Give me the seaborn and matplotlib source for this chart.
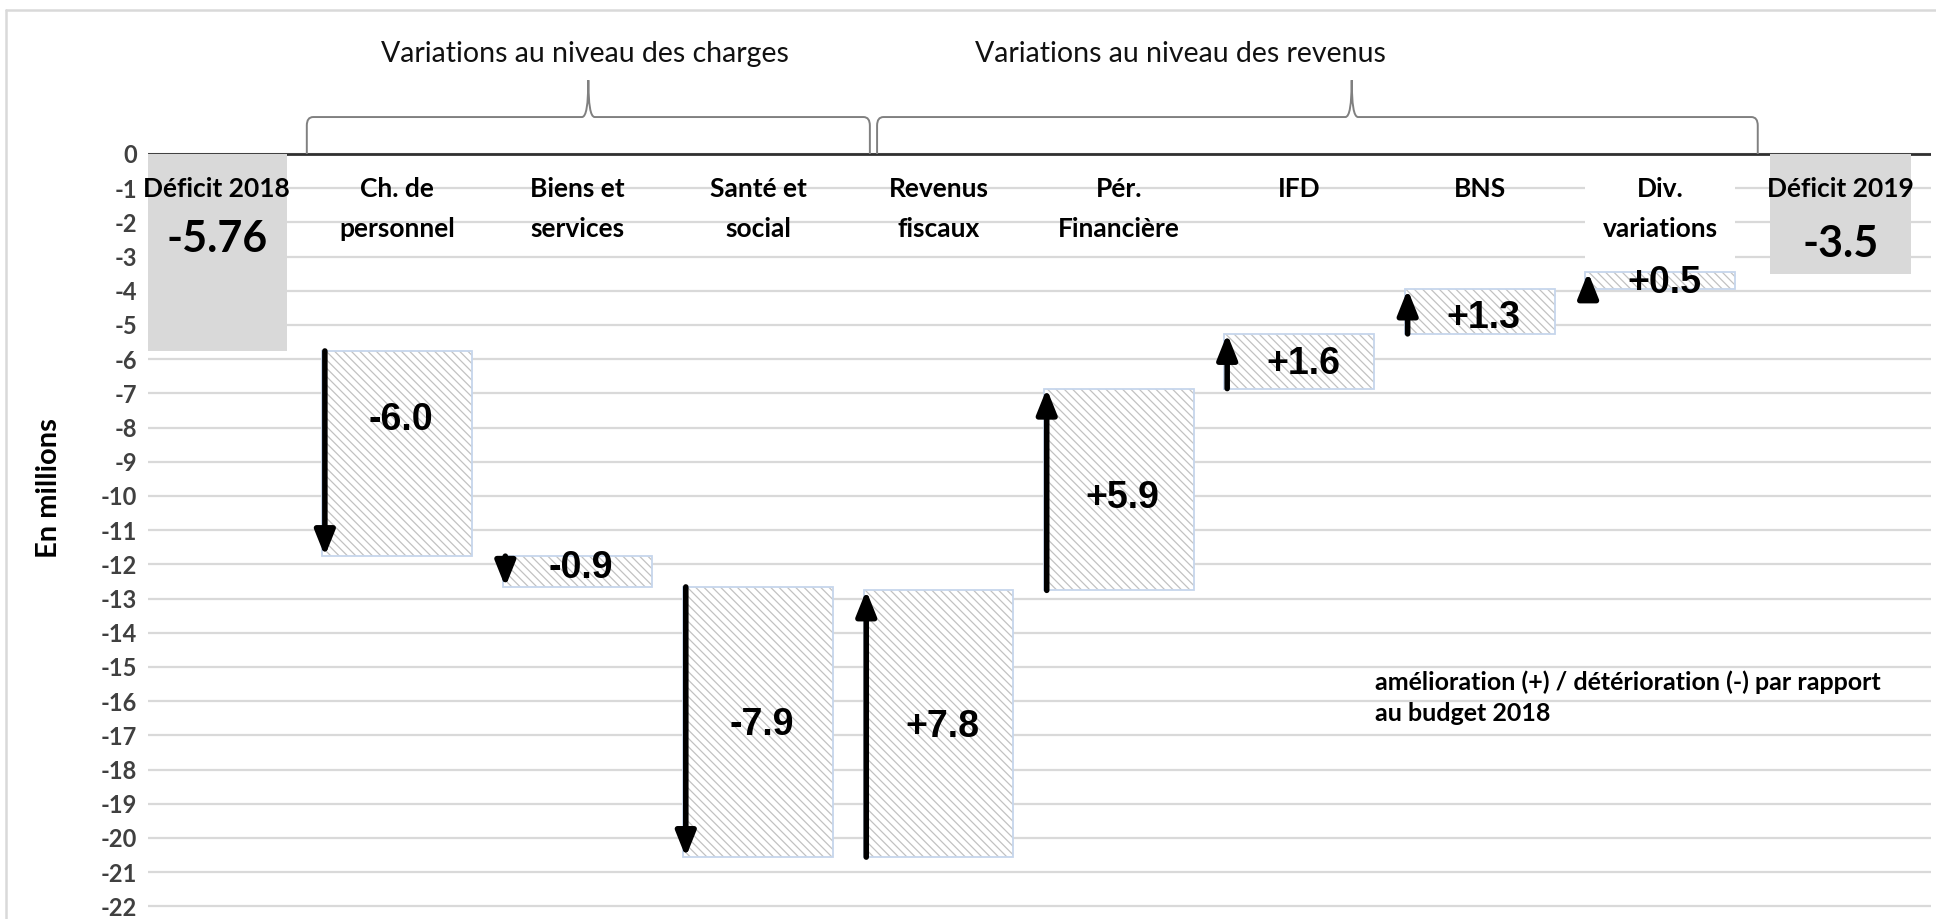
import numpy as np
import pandas as pd
import matplotlib
matplotlib.use("Agg")
import matplotlib.pyplot as plt
import seaborn as sns
from matplotlib.path import Path
from matplotlib.patches import PathPatch, Rectangle
from matplotlib.lines import Line2D

# ---------------- data ----------------
categories = ["Déficit 2018", "Ch. de\npersonnel", "Biens et\nservices", "Santé et\nsocial",
              "Revenus\nfiscaux", "Pér.\nFinancière", "IFD", "BNS", "Div.\nvariations", "Déficit 2019"]
deficit_2018 = -5.76
changes = [-6.0, -0.9, -7.9, 7.8, 5.9, 1.6, 1.3, 0.5]
deficit_2019 = -3.5
value_labels = ["-5.76", "-6.0", "-0.9", "-7.9", "+7.8", "+5.9", "+1.6", "+1.3", "+0.5", "-3.5"]
yticks = list(range(0, -23, -1))
group_titles = ["Variations au niveau des charges", "Variations au niveau des revenus"]
note_text = "amélioration (+) / détérioration (-) par rapport\nau budget 2018"
y_label = "En millions"

# ---------------- layout (positions, not data) ----------------
label_y = [-2.5, -7.77, -12.1, -16.7, -16.75, -10.05, -6.15, -4.81, -3.78, -2.62]

heights = [deficit_2018] + changes + [deficit_2019]
starts = deficit_2018 + np.concatenate([[0.0], np.cumsum(changes)[:-1]])
bottoms = [0.0] + list(starts) + [0.0]
n = len(categories)

sns.set_theme(style="white")
plt.rcParams["font.family"] = ["Lato", "DejaVu Sans"]
plt.rcParams["hatch.linewidth"] = 0.9

W, H, DPI = 1936, 919, 100
fig = plt.figure(figsize=(W / DPI, H / DPI), dpi=DPI)
ax = fig.add_axes([148 / W, 0.0, (1931 - 148) / W, (H - 10) / H])

df = pd.DataFrame({"cat": categories, "h": heights})
palette = {c: ("#d9d9d9" if i in (0, n - 1) else "#ffffff") for i, c in enumerate(categories)}
sns.barplot(data=df, x="cat", y="h", hue="cat", palette=palette, order=categories,
            hue_order=categories, width=0.83, saturation=1, legend=False, ax=ax, zorder=2)

patches = sorted([p for p in ax.patches if isinstance(p, Rectangle)], key=lambda p: p.get_x())
for i, p in enumerate(patches):
    p.set_y(bottoms[i])
    p.set_height(heights[i])
    if i in (0, n - 1):
        w = 0.78
        p.set_x(i - w / 2)
        p.set_width(w)
        p.set_edgecolor("none")
        p.set_linewidth(0)
    else:
        p.set_facecolor("white")
        p.set_edgecolor("#c2c2c2")
        p.set_hatch("\\\\\\\\")
        p.set_linewidth(0)
        outline = Rectangle((p.get_x(), p.get_y()), p.get_width(), p.get_height(),
                            facecolor="none", edgecolor="#c6d6ec", lw=1.3, zorder=2.1)
        ax.add_patch(outline)

ax.set_xlim(-0.38, 9.5)
ax.set_ylim(-22.37, 4.21)

# grid and zero line
ax.set_yticks(yticks)
ax.set_yticklabels([str(t) for t in yticks])
ax.set_axisbelow(True)
ax.yaxis.grid(True, color="#d9d9d9", lw=1.6)
ax.xaxis.grid(False)
ax.axhline(0, color="#303030", lw=2.0, zorder=1.5)
ax.set_xticks([])
ax.set_xlabel("")
ax.set_ylabel("")
for s in ax.spines.values():
    s.set_visible(False)
ax.tick_params(axis="y", length=0, pad=8)
for t in ax.get_yticklabels():
    t.set_fontweight("bold")
    t.set_fontsize(17)
    t.set_color("#404040")

# white backing behind Div. variations label
ax.add_patch(Rectangle((8 - 0.415, -3.42), 0.83, 2.85, facecolor="white",
                       edgecolor="none", zorder=1.8))

# category labels
for i, c in enumerate(categories):
    ax.text(i, -0.68, c, ha="center", va="top", fontsize=19, fontweight="bold",
            color="black", linespacing=1.8, zorder=4)

# value labels
for i, lab in enumerate(value_labels):
    if i in (0, n - 1):
        ax.text(i, label_y[i], lab, ha="center", va="center", fontsize=31,
                fontweight="bold", color="black", zorder=5)
    else:
        ax.text(i + 0.02, label_y[i], lab, ha="center", va="center", fontsize=27,
                fontweight="bold", color="black", family=["Liberation Sans", "DejaVu Sans"],
                zorder=5)

# arrows along left edge of change bars
for i in range(1, n - 1):
    x = i - 0.40
    y0 = bottoms[i]
    y1 = bottoms[i] + heights[i]
    ax.annotate("", xy=(x, y1), xytext=(x, y0),
                arrowprops=dict(arrowstyle="-|>,head_width=0.3,head_length=0.75",
                                lw=4.0, color="black", shrinkA=0, shrinkB=0,
                                mutation_scale=20), zorder=6)

# braces
def brace(x0, x1, xm, y_line=1.08, y_tip=2.16, dx=0.035, r=0.25):
    verts = [(x0, 0.0), (x0, y_line - r), (x0, y_line), (x0 + dx, y_line),
             (xm - dx, y_line), (xm, y_line), (xm, y_tip), (xm, y_line), (xm + dx, y_line),
             (x1 - dx, y_line), (x1, y_line), (x1, y_line - r), (x1, 0.0)]
    codes = [Path.MOVETO, Path.LINETO, Path.CURVE3, Path.CURVE3,
             Path.LINETO, Path.CURVE3, Path.CURVE3, Path.CURVE3, Path.CURVE3,
             Path.LINETO, Path.CURVE3, Path.CURVE3, Path.LINETO]
    ax.add_patch(PathPatch(Path(verts, codes), facecolor="none", edgecolor="#808080",
                           lw=1.4, zorder=3, clip_on=False))

brace(0.50, 3.62, 2.06)
brace(3.66, 8.54, 6.29)

ax.text(2.04, 2.92, group_titles[0], ha="center", va="center", fontsize=20.5, color="#111111")
ax.text(5.34, 2.92, group_titles[1], ha="center", va="center", fontsize=20.5, color="#111111")

# note
ax.text(6.42, -15.1, note_text, ha="left", va="top", fontsize=18, fontweight="bold",
        color="black", linespacing=1.4, zorder=5)

# y label
ax.text(-0.0555, 0.474, y_label, transform=ax.transAxes, rotation=90, ha="center",
        va="center", fontsize=21, fontweight="bold", color="black")

# outer frame lines (left and top)
fig.add_artist(Line2D([5.5 / W, 5.5 / W], [0, 1 - 10 / H], transform=fig.transFigure,
                      color="#d9d9d9", lw=1.8))
fig.add_artist(Line2D([5.5 / W, 1], [1 - 10 / H, 1 - 10 / H], transform=fig.transFigure,
                      color="#d9d9d9", lw=1.8))

fig.savefig("out.png", dpi=DPI)
